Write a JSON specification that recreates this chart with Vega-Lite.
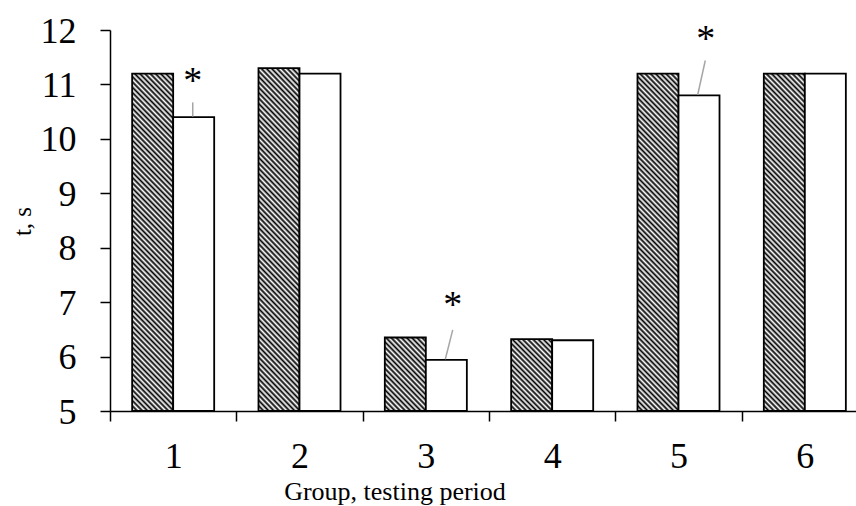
{
 "$schema": "https://vega.github.io/schema/vega-lite/v6.json",
 "width": 746,
 "height": 381,
 "autosize": {"type": "none"},
 "padding": {"left": 110, "top": 30, "right": 0, "bottom": 95},
 "background": "white",
 "config": {
  "view": {"stroke": null},
  "font": "Liberation Serif",
  "axis": {"grid": false, "domainColor": "black", "tickColor": "black", "labelColor": "black", "titleColor": "black", "labelFont": "Liberation Serif", "titleFont": "Liberation Serif", "titleFontWeight": "normal"}
 },
 "datasets": {
  "bars": [
   {"group": 1, "period": "first", "t": 11.2},
   {"group": 1, "period": "second", "t": 10.4},
   {"group": 2, "period": "first", "t": 11.3},
   {"group": 2, "period": "second", "t": 11.2},
   {"group": 3, "period": "first", "t": 6.35},
   {"group": 3, "period": "second", "t": 5.94},
   {"group": 4, "period": "first", "t": 6.32},
   {"group": 4, "period": "second", "t": 6.3},
   {"group": 5, "period": "first", "t": 11.2},
   {"group": 5, "period": "second", "t": 10.8},
   {"group": 6, "period": "first", "t": 11.2},
   {"group": 6, "period": "second", "t": 11.2}
  ],
  "leaders": [
   {"x1": 0.655, "x2": 0.655, "y1": 10.67, "y2": 10.41},
   {"x1": 2.713, "x2": 2.654, "y1": 6.49, "y2": 5.95},
   {"x1": 4.712, "x2": 4.652, "y1": 11.44, "y2": 10.81}
  ],
  "stars": [
   {"x": 0.655, "y": 11.18},
   {"x": 2.713, "y": 7.05},
   {"x": 4.715, "y": 11.94}
  ]
 },
 "layer": [
  {
   "data": {"name": "bars"},
   "encoding": {
    "x": {
     "field": "group", "type": "ordinal",
     "scale": {"range": [0, 758], "paddingInner": 0, "paddingOuter": 0},
     "axis": {"title": "Group, testing period", "labelAngle": 0, "labelFontSize": 36, "labelBaseline": "alphabetic", "labelPadding": 46, "tickSize": 10, "tickWidth": 1.5, "domainWidth": 1.5, "tickBand": "extent", "titleFontSize": 26, "titleX": 284.5, "titleY": 88, "titleAlign": "center", "titleBaseline": "alphabetic", "labelFlush": false}
    },
    "xOffset": {"field": "period", "type": "nominal", "scale": {"domain": ["first", "second"], "paddingInner": 0, "paddingOuter": 0.54}},
    "y": {
     "field": "t", "type": "quantitative",
     "scale": {"domain": [5, 12], "nice": false, "zero": false},
     "axis": {"title": "t, s", "values": [5, 6, 7, 8, 9, 10, 11, 12], "format": "d", "labelFontSize": 36, "labelBaseline": "alphabetic", "labelOffset": 12, "labelPadding": 24, "tickSize": 10, "tickWidth": 1.5, "domainWidth": 1.5, "titleFontSize": 25, "titleAngle": 270, "titleX": -88, "titleY": 191, "titleAlign": "center", "titleBaseline": "middle"}
    },
    "y2": {"datum": 5}
   },
   "layer": [
    {
     "transform": [{"filter": "datum.period === 'first' && datum.t > 8"}],
     "mark": {"type": "bar", "stroke": "black", "strokeWidth": 1.8, "fill": {"gradient": "linear", "x1": 0, "y1": 1, "x2": 0.1376, "y2": -0.1072, "stops": [
{"offset":0,"color":"#000"},{"offset":0.007,"color":"#fff"},{"offset":0.014,"color":"#000"},{"offset":0.021,"color":"#fff"},{"offset":0.028,"color":"#000"},{"offset":0.035,"color":"#fff"},{"offset":0.042,"color":"#000"},{"offset":0.049,"color":"#fff"},{"offset":0.056,"color":"#000"},{"offset":0.063,"color":"#fff"},
{"offset":0.07,"color":"#000"},{"offset":0.077,"color":"#fff"},{"offset":0.084,"color":"#000"},{"offset":0.091,"color":"#fff"},{"offset":0.098,"color":"#000"},{"offset":0.105,"color":"#fff"},{"offset":0.112,"color":"#000"},{"offset":0.119,"color":"#fff"},{"offset":0.126,"color":"#000"},{"offset":0.133,"color":"#fff"},
{"offset":0.14,"color":"#000"},{"offset":0.147,"color":"#fff"},{"offset":0.154,"color":"#000"},{"offset":0.161,"color":"#fff"},{"offset":0.168,"color":"#000"},{"offset":0.175,"color":"#fff"},{"offset":0.182,"color":"#000"},{"offset":0.189,"color":"#fff"},{"offset":0.196,"color":"#000"},{"offset":0.203,"color":"#fff"},
{"offset":0.21,"color":"#000"},{"offset":0.217,"color":"#fff"},{"offset":0.224,"color":"#000"},{"offset":0.231,"color":"#fff"},{"offset":0.238,"color":"#000"},{"offset":0.245,"color":"#fff"},{"offset":0.252,"color":"#000"},{"offset":0.259,"color":"#fff"},{"offset":0.266,"color":"#000"},{"offset":0.273,"color":"#fff"},
{"offset":0.28,"color":"#000"},{"offset":0.287,"color":"#fff"},{"offset":0.294,"color":"#000"},{"offset":0.301,"color":"#fff"},{"offset":0.308,"color":"#000"},{"offset":0.315,"color":"#fff"},{"offset":0.322,"color":"#000"},{"offset":0.329,"color":"#fff"},{"offset":0.336,"color":"#000"},{"offset":0.343,"color":"#fff"},
{"offset":0.35,"color":"#000"},{"offset":0.357,"color":"#fff"},{"offset":0.364,"color":"#000"},{"offset":0.371,"color":"#fff"},{"offset":0.378,"color":"#000"},{"offset":0.385,"color":"#fff"},{"offset":0.392,"color":"#000"},{"offset":0.399,"color":"#fff"},{"offset":0.406,"color":"#000"},{"offset":0.413,"color":"#fff"},
{"offset":0.42,"color":"#000"},{"offset":0.427,"color":"#fff"},{"offset":0.434,"color":"#000"},{"offset":0.441,"color":"#fff"},{"offset":0.448,"color":"#000"},{"offset":0.455,"color":"#fff"},{"offset":0.462,"color":"#000"},{"offset":0.469,"color":"#fff"},{"offset":0.476,"color":"#000"},{"offset":0.483,"color":"#fff"},
{"offset":0.49,"color":"#000"},{"offset":0.497,"color":"#fff"},{"offset":0.504,"color":"#000"},{"offset":0.511,"color":"#fff"},{"offset":0.518,"color":"#000"},{"offset":0.525,"color":"#fff"},{"offset":0.532,"color":"#000"},{"offset":0.539,"color":"#fff"},{"offset":0.546,"color":"#000"},{"offset":0.553,"color":"#fff"},
{"offset":0.56,"color":"#000"},{"offset":0.567,"color":"#fff"},{"offset":0.574,"color":"#000"},{"offset":0.581,"color":"#fff"},{"offset":0.588,"color":"#000"},{"offset":0.595,"color":"#fff"},{"offset":0.602,"color":"#000"},{"offset":0.609,"color":"#fff"},{"offset":0.616,"color":"#000"},{"offset":0.623,"color":"#fff"},
{"offset":0.63,"color":"#000"},{"offset":0.637,"color":"#fff"},{"offset":0.644,"color":"#000"},{"offset":0.651,"color":"#fff"},{"offset":0.658,"color":"#000"},{"offset":0.665,"color":"#fff"},{"offset":0.672,"color":"#000"},{"offset":0.679,"color":"#fff"},{"offset":0.686,"color":"#000"},{"offset":0.693,"color":"#fff"},
{"offset":0.7,"color":"#000"},{"offset":0.707,"color":"#fff"},{"offset":0.714,"color":"#000"},{"offset":0.721,"color":"#fff"},{"offset":0.728,"color":"#000"},{"offset":0.735,"color":"#fff"},{"offset":0.742,"color":"#000"},{"offset":0.749,"color":"#fff"},{"offset":0.756,"color":"#000"},{"offset":0.763,"color":"#fff"},
{"offset":0.77,"color":"#000"},{"offset":0.777,"color":"#fff"},{"offset":0.784,"color":"#000"},{"offset":0.791,"color":"#fff"},{"offset":0.798,"color":"#000"},{"offset":0.805,"color":"#fff"},{"offset":0.812,"color":"#000"},{"offset":0.819,"color":"#fff"},{"offset":0.826,"color":"#000"},{"offset":0.833,"color":"#fff"},
{"offset":0.84,"color":"#000"},{"offset":0.847,"color":"#fff"},{"offset":0.854,"color":"#000"},{"offset":0.861,"color":"#fff"},{"offset":0.868,"color":"#000"},{"offset":0.875,"color":"#fff"},{"offset":0.882,"color":"#000"},{"offset":0.889,"color":"#fff"},{"offset":0.896,"color":"#000"},{"offset":0.903,"color":"#fff"},
{"offset":0.91,"color":"#000"},{"offset":0.917,"color":"#fff"},{"offset":0.924,"color":"#000"},{"offset":0.931,"color":"#fff"},{"offset":0.938,"color":"#000"},{"offset":0.945,"color":"#fff"},{"offset":0.952,"color":"#000"},{"offset":0.959,"color":"#fff"},{"offset":0.966,"color":"#000"},{"offset":0.973,"color":"#fff"},
{"offset":0.98,"color":"#000"},{"offset":0.987,"color":"#fff"},{"offset":0.994,"color":"#000"},{"offset":1,"color":"#fff"}
     ]}}
    },
    {
     "transform": [{"filter": "datum.period === 'first' && datum.t <= 8"}],
     "mark": {"type": "bar", "stroke": "black", "strokeWidth": 1.8, "fill": {"gradient": "linear", "x1": 0, "y1": 1, "x2": 0.681, "y2": -0.1835, "stops": [
{"offset":0,"color":"#000"},{"offset":0.023,"color":"#fff"},{"offset":0.046,"color":"#000"},{"offset":0.069,"color":"#fff"},{"offset":0.092,"color":"#000"},{"offset":0.115,"color":"#fff"},{"offset":0.138,"color":"#000"},{"offset":0.161,"color":"#fff"},{"offset":0.184,"color":"#000"},{"offset":0.207,"color":"#fff"},
{"offset":0.23,"color":"#000"},{"offset":0.253,"color":"#fff"},{"offset":0.276,"color":"#000"},{"offset":0.299,"color":"#fff"},{"offset":0.322,"color":"#000"},{"offset":0.345,"color":"#fff"},{"offset":0.368,"color":"#000"},{"offset":0.391,"color":"#fff"},{"offset":0.414,"color":"#000"},{"offset":0.437,"color":"#fff"},
{"offset":0.46,"color":"#000"},{"offset":0.483,"color":"#fff"},{"offset":0.506,"color":"#000"},{"offset":0.529,"color":"#fff"},{"offset":0.552,"color":"#000"},{"offset":0.575,"color":"#fff"},{"offset":0.598,"color":"#000"},{"offset":0.621,"color":"#fff"},{"offset":0.644,"color":"#000"},{"offset":0.667,"color":"#fff"},
{"offset":0.69,"color":"#000"},{"offset":0.713,"color":"#fff"},{"offset":0.736,"color":"#000"},{"offset":0.759,"color":"#fff"},{"offset":0.782,"color":"#000"},{"offset":0.805,"color":"#fff"},{"offset":0.828,"color":"#000"},{"offset":0.851,"color":"#fff"},{"offset":0.874,"color":"#000"},{"offset":0.897,"color":"#fff"},
{"offset":0.92,"color":"#000"},{"offset":0.943,"color":"#fff"},{"offset":0.966,"color":"#000"},{"offset":0.989,"color":"#fff"},{"offset":1,"color":"#fff"}
     ]}}
    },
    {
     "transform": [{"filter": "datum.period === 'second'"}],
     "mark": {"type": "bar", "stroke": "black", "strokeWidth": 1.8, "fill": "white"}
    }
   ]
  },
  {
   "data": {"name": "leaders"},
   "mark": {"type": "rule", "color": "#a6a6a6", "strokeWidth": 1.5},
   "encoding": {
    "x": {"field": "x1", "type": "quantitative", "scale": {"domain": [0, 6], "range": [0, 758], "nice": false, "zero": false}, "axis": null},
    "x2": {"field": "x2"},
    "y": {"field": "y1", "type": "quantitative", "scale": {"domain": [5, 12], "nice": false, "zero": false}},
    "y2": {"field": "y2"}
   }
  },
  {
   "data": {"name": "stars"},
   "mark": {"type": "text", "text": "*", "fontSize": 38, "font": "Liberation Serif", "baseline": "alphabetic", "align": "center", "dy": 18, "color": "black"},
   "encoding": {
    "x": {"field": "x", "type": "quantitative", "scale": {"domain": [0, 6], "range": [0, 758], "nice": false, "zero": false}, "axis": null},
    "y": {"field": "y", "type": "quantitative", "scale": {"domain": [5, 12], "nice": false, "zero": false}}
   }
  }
 ],
 "resolve": {"scale": {"x": "independent"}, "axis": {"x": "independent"}}
}
